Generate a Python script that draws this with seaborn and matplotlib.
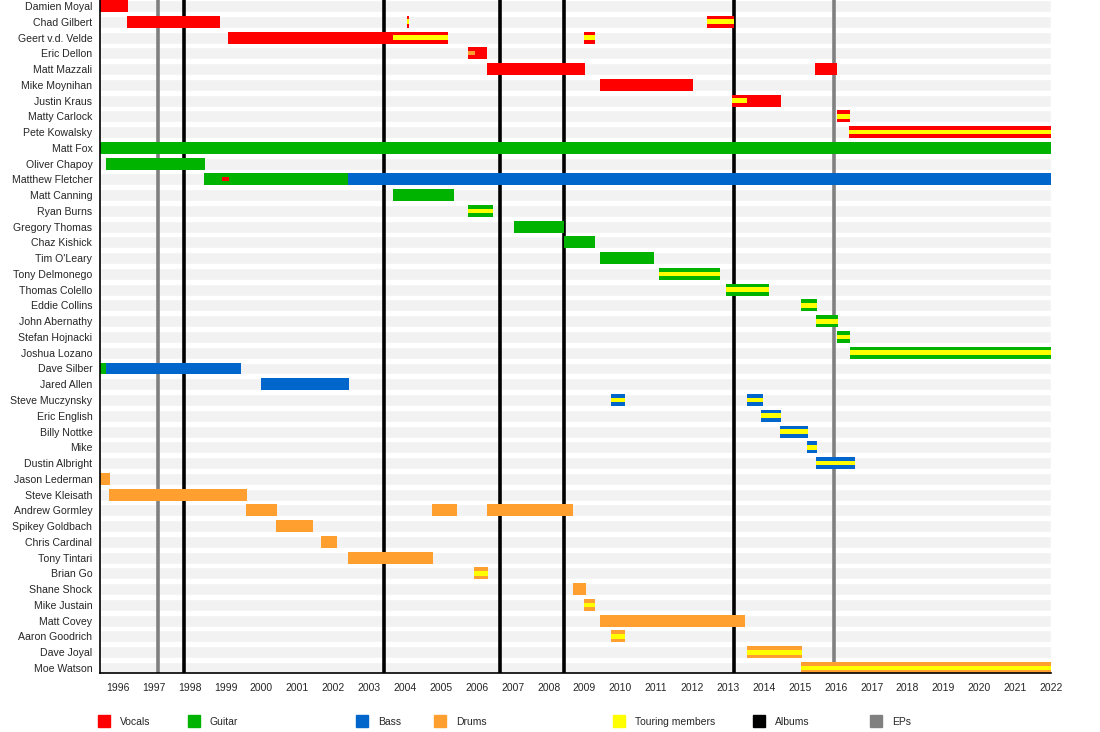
import pandas as pd
import numpy as np
import matplotlib
matplotlib.use("Agg")
import matplotlib.pyplot as plt
from matplotlib.patches import Rectangle
import seaborn as sns

sns.set_theme(style="white")
plt.rcParams['font.family'] = ['Liberation Sans', 'DejaVu Sans']

# Membros (de cima para baixo)
members = ["Damien Moyal", "Chad Gilbert", "Geert v.d. Velde", "Eric Dellon", "Matt Mazzali",
           "Mike Moynihan", "Justin Kraus", "Matty Carlock", "Pete Kowalsky", "Matt Fox",
           "Oliver Chapoy", "Matthew Fletcher", "Matt Canning", "Ryan Burns", "Gregory Thomas",
           "Chaz Kishick", "Tim O'Leary", "Tony Delmonego", "Thomas Colello", "Eddie Collins",
           "John Abernathy", "Stefan Hojnacki", "Joshua Lozano", "Dave Silber", "Jared Allen",
           "Steve Muczynsky", "Eric English", "Billy Nottke", "Mike", "Dustin Albright",
           "Jason Lederman", "Steve Kleisath", "Andrew Gormley", "Spikey Goldbach", "Chris Cardinal",
           "Tony Tintari", "Brian Go", "Shane Shock", "Mike Justain", "Matt Covey",
           "Aaron Goodrich", "Dave Joyal", "Moe Watson"]

# Periodos principais (barras cheias)
bar_member = ["Damien Moyal", "Chad Gilbert", "Chad Gilbert", "Chad Gilbert", "Geert v.d. Velde",
              "Geert v.d. Velde", "Eric Dellon", "Matt Mazzali", "Matt Mazzali", "Mike Moynihan",
              "Justin Kraus", "Matty Carlock", "Pete Kowalsky", "Matt Fox", "Oliver Chapoy",
              "Matthew Fletcher", "Matthew Fletcher", "Matt Canning", "Ryan Burns", "Gregory Thomas",
              "Chaz Kishick", "Tim O'Leary", "Tony Delmonego", "Thomas Colello", "Eddie Collins",
              "John Abernathy", "Stefan Hojnacki", "Joshua Lozano", "Dave Silber", "Dave Silber",
              "Jared Allen", "Steve Muczynsky", "Steve Muczynsky", "Eric English", "Billy Nottke",
              "Mike", "Dustin Albright", "Jason Lederman", "Steve Kleisath", "Andrew Gormley",
              "Andrew Gormley", "Andrew Gormley", "Spikey Goldbach", "Chris Cardinal", "Tony Tintari",
              "Brian Go", "Shane Shock", "Mike Justain", "Matt Covey", "Aaron Goodrich",
              "Dave Joyal", "Moe Watson"]
bar_start = [1995.5, 1996.25, 2004.05, 2012.42, 1999.07,
             2009.0, 2005.76, 2006.27, 2015.42, 2009.42,
             2013.10, 2016.03, 2016.37, 1995.5, 1995.67,
             1998.40, 2002.41, 2003.67, 2005.76, 2007.03,
             2008.42, 2009.42, 2011.09, 2012.93, 2015.03,
             2015.44, 2016.03, 2016.39, 1995.5, 1995.67,
             1999.99, 2009.75, 2013.52, 2013.93, 2014.44,
             2015.19, 2015.44, 1995.5, 1995.75, 1999.57,
             2004.75, 2006.27, 2000.41, 2001.66, 2002.42,
             2005.93, 2008.68, 2008.98, 2009.42, 2009.74,
             2013.52, 2015.03]
bar_end = [1996.27, 1998.85, 2004.10, 2013.18, 2005.21,
           2009.28, 2006.29, 2009.02, 2016.05, 2012.03,
           2014.47, 2016.39, 2022.0, 2022.0, 1998.42,
           2002.41, 2022.0, 2005.37, 2006.45, 2008.44,
           2009.28, 2010.95, 2012.79, 2014.13, 2015.47,
           2016.06, 2016.40, 2022.0, 1995.67, 1999.43,
           2002.45, 2010.12, 2013.97, 2014.47, 2015.22,
           2015.47, 2016.53, 1995.78, 1999.60, 2000.44,
           2005.45, 2008.68, 2001.44, 2002.10, 2004.78,
           2006.30, 2009.03, 2009.28, 2013.46, 2010.14,
           2015.05, 2022.0]
bar_role = ["Vocals", "Vocals", "Vocals", "Vocals", "Vocals",
            "Vocals", "Vocals", "Vocals", "Vocals", "Vocals",
            "Vocals", "Vocals", "Vocals", "Guitar", "Guitar",
            "Guitar", "Bass", "Guitar", "Guitar", "Guitar",
            "Guitar", "Guitar", "Guitar", "Guitar", "Guitar",
            "Guitar", "Guitar", "Guitar", "Guitar", "Bass",
            "Bass", "Bass", "Bass", "Bass", "Bass",
            "Bass", "Bass", "Drums", "Drums", "Drums",
            "Drums", "Drums", "Drums", "Drums", "Drums",
            "Drums", "Drums", "Drums", "Drums", "Drums",
            "Drums", "Drums"]

# Faixas internas (membros de turne e funcoes secundarias)
stripe_member = ["Chad Gilbert", "Chad Gilbert", "Geert v.d. Velde", "Geert v.d. Velde", "Eric Dellon",
                 "Justin Kraus", "Matty Carlock", "Pete Kowalsky", "Matthew Fletcher", "Ryan Burns",
                 "Tony Delmonego", "Thomas Colello", "Eddie Collins", "John Abernathy", "Stefan Hojnacki",
                 "Joshua Lozano", "Steve Muczynsky", "Steve Muczynsky", "Eric English", "Billy Nottke",
                 "Mike", "Dustin Albright", "Brian Go", "Mike Justain", "Aaron Goodrich",
                 "Dave Joyal", "Moe Watson"]
stripe_start = [2004.05, 2012.42, 2003.67, 2009.0, 2005.76,
                2013.10, 2016.03, 2016.37, 1998.89, 2005.76,
                2011.09, 2012.93, 2015.03, 2015.44, 2016.03,
                2016.39, 2009.75, 2013.52, 2013.93, 2014.44,
                2015.19, 2015.44, 2005.93, 2008.98, 2009.74,
                2013.52, 2015.03]
stripe_end = [2004.10, 2013.18, 2005.21, 2009.28, 2005.96,
              2013.54, 2016.39, 2022.0, 1999.10, 2006.45,
              2012.79, 2014.13, 2015.47, 2016.06, 2016.40,
              2022.0, 2010.12, 2013.97, 2014.47, 2015.22,
              2015.47, 2016.53, 2006.30, 2009.28, 2010.14,
              2015.05, 2022.0]
stripe_role = ["Touring", "Touring", "Touring", "Touring", "Drums",
               "Touring", "Touring", "Touring", "Vocals", "Touring",
               "Touring", "Touring", "Touring", "Touring", "Touring",
               "Touring", "Touring", "Touring", "Touring", "Touring",
               "Touring", "Touring", "Touring", "Touring", "Touring",
               "Touring", "Touring"]

# Lancamentos
albums = [1997.85, 2003.40, 2006.66, 2008.42, 2013.16]
eps = [1997.12, 2015.95]

years = list(range(1996, 2023))

cores = {"Vocals": "#ff0000", "Guitar": "#00b300", "Bass": "#0066cc",
         "Drums": "#ff9f30", "Touring": "#ffff00", "Albums": "#000000", "EPs": "#808080"}

barras = pd.DataFrame({"member": bar_member, "start": bar_start, "end": bar_end, "role": bar_role})
faixas = pd.DataFrame({"member": stripe_member, "start": stripe_start, "end": stripe_end, "role": stripe_role})
pos = {m: i for i, m in enumerate(members)}
barras["row"] = barras["member"].map(pos)
faixas["row"] = faixas["member"].map(pos)

fig = plt.figure(figsize=(11, 7.32), dpi=100)
ax = fig.add_axes([100 / 1100, 1 - 673 / 732, 951 / 1100, 673 / 732])

altura = 0.76
x0, x1 = 1995.5, 2022.0

# Fundo cinza claro de cada linha
ax.barh(np.arange(len(members)), x1 - x0, left=x0, height=altura, color="#f2f2f2", zorder=1)

for a in albums:
    ax.axvline(a, color=cores["Albums"], lw=2.6, zorder=2)
for e in eps:
    ax.axvline(e, color=cores["EPs"], lw=2.6, zorder=2)

ax.barh(barras["row"], barras["end"] - barras["start"], left=barras["start"], height=altura,
        color=barras["role"].map(cores), zorder=3, linewidth=0)
alt_faixa = np.where(faixas["role"] == "Touring", 0.30, 0.24)
ax.barh(faixas["row"], faixas["end"] - faixas["start"], left=faixas["start"], height=alt_faixa,
        color=faixas["role"].map(cores), zorder=4, linewidth=0)

ax.set_xlim(x0, x1)
ax.set_ylim(42.32, -0.38)
ax.set_yticks(np.arange(len(members)))
ax.set_yticklabels(members, fontsize=7.6)
ax.set_xticks(years)
ax.set_xticklabels([str(y) for y in years], fontsize=7.5)
ax.tick_params(axis="x", direction="out", length=4, width=0.8, color="black", pad=3)
ax.tick_params(axis="y", length=0, pad=5.5)
ax.set_facecolor("white")
for lado in ["top", "right"]:
    ax.spines[lado].set_visible(False)
for lado in ["left", "bottom"]:
    ax.spines[lado].set_color("black")
    ax.spines[lado].set_linewidth(1.2)
    ax.spines[lado].set_zorder(5)
ax.grid(False)

# Legenda manual
legenda = [("Vocals", 98), ("Guitar", 188), ("Bass", 356), ("Drums", 434),
           ("Touring members", 613), ("Albums", 753), ("EPs", 870)]
for nome, xp in legenda:
    chave = "Touring" if nome == "Touring members" else nome
    fig.add_artist(Rectangle((xp / 1100, 1 - 727 / 732), 12 / 1100, 12 / 732,
                             transform=fig.transFigure, color=cores[chave]))
    fig.text((xp + 22) / 1100, 1 - 722 / 732, nome, fontsize=7.5, va="center", ha="left")

fig.savefig("out.png", dpi=100)
